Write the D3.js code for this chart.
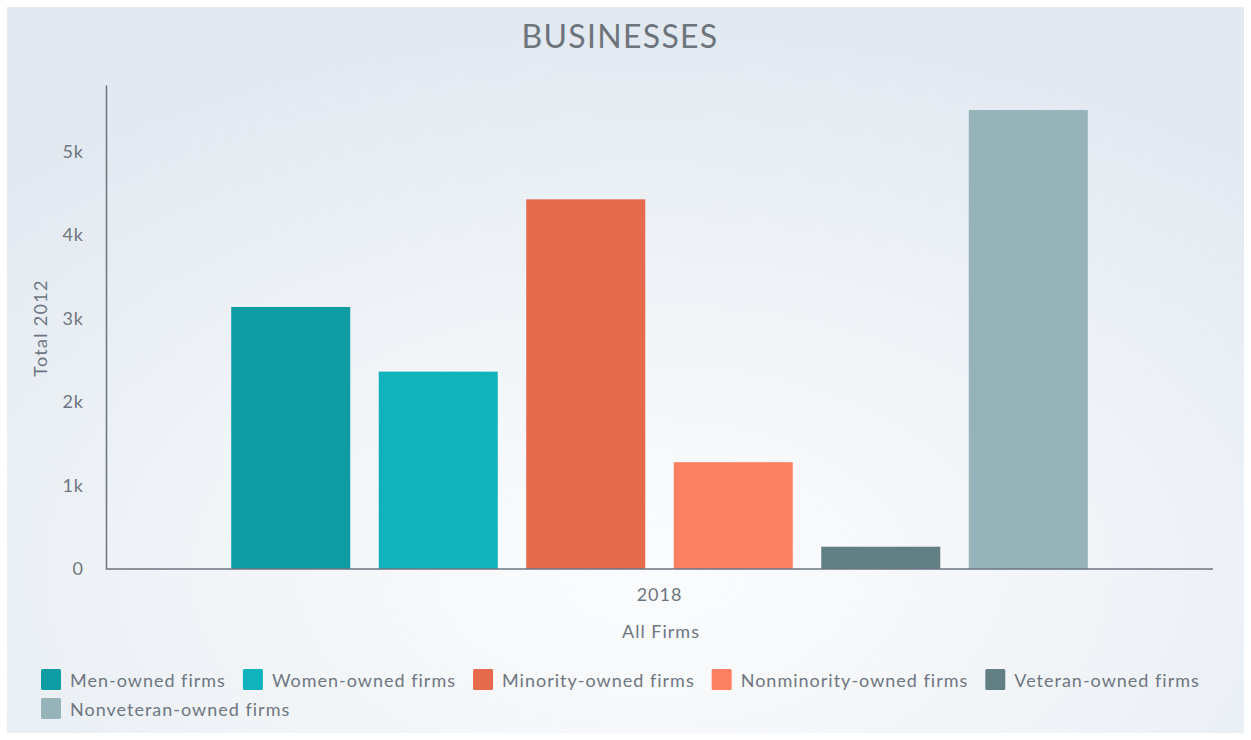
<!DOCTYPE html>
<html>
<head>
<meta charset="utf-8">
<script src="https://cdn.jsdelivr.net/npm/d3@7"></script>
<style>
  html, body { margin: 0; padding: 0; background: #ffffff; }
  svg { display: block; }
  text { font-family: Lato, "Open Sans", sans-serif; }
</style>
</head>
<body>
<svg id="chart" width="1251" height="740"></svg>
<script>
// Business counts by owner type (single category: 2018)
const categories = ["2018"];
const seriesNames = [
  "Men-owned firms",
  "Women-owned firms",
  "Minority-owned firms",
  "Nonminority-owned firms",
  "Veteran-owned firms",
  "Nonveteran-owned firms"
];
const seriesValues = [3140, 2365, 4430, 1280, 267, 5500];
const seriesColors = ["#109ca3", "#10b3bc", "#e66b4d", "#fb8062", "#627f83", "#95b3b8"];
const yTicks = [0, 1000, 2000, 3000, 4000, 5000];
const yMax = 5800;

const W = 1251, H = 740;
const margin = { left: 106, right: 38, top: 85, bottom: 171 };
const textColor = "#6e7681";
const axisColor = "#6b7580";
const spacing = "1px";

const svg = d3.select("#chart");

// panel background with soft radial gradient
const defs = svg.append("defs");
const grad = defs.append("radialGradient")
  .attr("id", "bg")
  .attr("cx", "52%").attr("cy", "78%").attr("r", "75%")
  .attr("fx", "52%").attr("fy", "78%");
grad.append("stop").attr("offset", "0%").attr("stop-color", "#fbfcfd");
grad.append("stop").attr("offset", "45%").attr("stop-color", "#f2f5f8");
grad.append("stop").attr("offset", "100%").attr("stop-color", "#e2e9f0");

svg.append("rect")
  .attr("x", 7).attr("y", 7)
  .attr("width", W - 14).attr("height", H - 14)
  .attr("fill", "url(#bg)");

// title
svg.append("text")
  .attr("x", 620).attr("y", 48)
  .attr("text-anchor", "middle")
  .attr("font-size", 32)
  .attr("letter-spacing", "1.3px")
  .attr("fill", "#6d747c")
  .text("BUSINESSES");

const x0 = d3.scaleBand()
  .domain(categories)
  .range([margin.left, W - margin.right])
  .paddingOuter(0.1254)
  .paddingInner(0);

const x1 = d3.scaleBand()
  .domain(seriesNames)
  .range([0, x0.bandwidth()])
  .paddingInner(0.193)
  .paddingOuter(0.0965);

const y = d3.scaleLinear()
  .domain([0, yMax])
  .range([H - margin.bottom, margin.top]);

// bars
const g = svg.append("g");
categories.forEach(cat => {
  g.selectAll(null)
    .data(seriesNames.map((name, i) => ({ name, value: seriesValues[i], color: seriesColors[i] })))
    .join("rect")
    .attr("x", d => x0(cat) + x1(d.name))
    .attr("y", d => y(d.value))
    .attr("width", x1.bandwidth())
    .attr("height", d => y(0) - y(d.value))
    .attr("fill", d => d.color);
});

// y axis
const yAxis = svg.append("g")
  .attr("transform", `translate(${margin.left},0)`)
  .call(d3.axisLeft(y).tickValues(yTicks).tickSize(0).tickPadding(22)
    .tickFormat(d => d === 0 ? "0" : d3.format("~s")(d)));
yAxis.select(".domain").attr("stroke", axisColor).attr("stroke-width", 1.5);
yAxis.selectAll("text")
  .attr("font-size", 18)
  .attr("letter-spacing", spacing)
  .attr("fill", textColor)
  .attr("font-family", "Lato, sans-serif");

// x axis
const xAxis = svg.append("g")
  .attr("transform", `translate(0,${H - margin.bottom})`)
  .call(d3.axisBottom(x0).tickSize(0).tickPadding(19).tickSizeOuter(0));
xAxis.select(".domain")
  .attr("d", `M${margin.left},0H${W - margin.right}`)
  .attr("stroke", axisColor).attr("stroke-width", 1.5);
xAxis.selectAll("text")
  .attr("font-size", 18)
  .attr("letter-spacing", spacing)
  .attr("fill", textColor)
  .attr("font-family", "Lato, sans-serif");

// axis titles
svg.append("text")
  .attr("x", 661).attr("y", 638)
  .attr("text-anchor", "middle")
  .attr("font-size", 18)
  .attr("letter-spacing", spacing)
  .attr("fill", textColor)
  .text("All Firms");

svg.append("text")
  .attr("transform", `translate(47,328) rotate(-90)`)
  .attr("text-anchor", "middle")
  .attr("font-size", 18)
  .attr("letter-spacing", "1.3px")
  .attr("fill", textColor)
  .text("Total 2012");

// legend, wrapping onto a second row
const legend = svg.append("g");
const legendLeft = 41, legendRight = 1215, rowH = 29, sw = 20;
let lx = legendLeft, ly = 669;
seriesNames.forEach((name, i) => {
  const item = legend.append("g");
  item.append("rect")
    .attr("width", sw).attr("height", 21).attr("rx", 1.5)
    .attr("fill", seriesColors[i]);
  const t = item.append("text")
    .attr("x", sw + 9).attr("y", 17.5)
    .attr("font-size", 18)
    .attr("letter-spacing", spacing)
    .attr("fill", textColor)
    .text(name);
  const w = sw + 9 + t.node().getComputedTextLength();
  if (lx + w > legendRight && lx > legendLeft) {
    lx = legendLeft; ly += rowH;
  }
  item.attr("transform", `translate(${lx},${ly})`);
  lx += w + 17;
});
</script>
</body>
</html>
